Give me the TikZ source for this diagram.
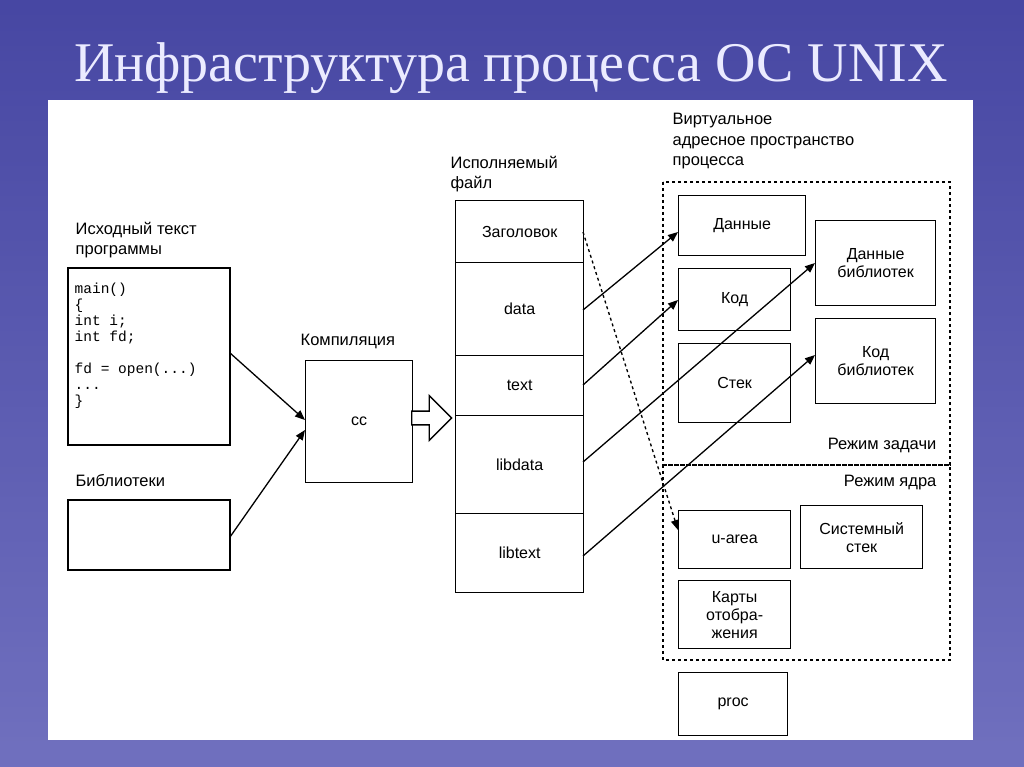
\documentclass[tikz,border=0pt]{standalone}
\usepackage{fontspec}
\setmainfont{Liberation Sans}
\newfontfamily\titlefont{Liberation Serif}
\newfontfamily\codefont{Liberation Mono}
\usetikzlibrary{arrows.meta,shapes.arrows}
\begin{document}
\begin{tikzpicture}[x=1pt,y=-1pt,line width=1.3pt,
  bx/.style={draw,line width=1.3pt,fill=white,inner sep=0pt,font=\fontsize{16}{18}\selectfont,align=center},
  lbl/.style={font=\fontsize{16.5}{20}\selectfont,align=left,inner sep=0pt},
  arr/.style={line width=1.3pt,-{Triangle[length=10pt,width=8pt]}}]
\useasboundingbox (0,0) rectangle (1024,767);
\shade[top color=blue!50!black!90!white, bottom color=blue!55!black!70!white] (0,0) rectangle (1024,767);
\fill[white,opacity=0.2] (0,0) rectangle (1024,767);
\node[font=\titlefont\fontsize{56}{60}\selectfont,text=white!92!blue,anchor=center] (title) at (511,68) {Инфраструктура процесса ОС UNIX};
\fill[white] (48,100) rectangle (973,740);
% left
\node[lbl,anchor=north west] (srcl) at (75,222) {Исходный текст\\программы};
\draw (68,268) rectangle (230,445);
\node[font=\codefont\fontsize{14.5}{16}\selectfont,align=left,anchor=north west,inner sep=0pt] (code) at (74,282) {main()\\\{\\int i;\\int fd;\\[16pt]fd = open(...)\\...\\\}};
\coordinate (srcR) at (230,353);
\node[lbl,anchor=north west] (libl) at (75,474) {Библиотеки};
\draw (68,500) rectangle (230,570);
\coordinate (libR) at (230,537);
\node[lbl,anchor=north west] (compl) at (300,333) {Компиляция};
\node[bx,minimum width=107pt,minimum height=122pt,anchor=north west] (cc) at (305,360) {cc};
\draw[arr] (srcR) -- (305,420);
\draw[arr] (libR) -- (305,430);
\node[single arrow,draw,fill=white,minimum height=40pt,minimum width=45pt,single arrow head extend=6pt,inner sep=2pt,anchor=west] (barr) at (411,418) {};
% exec file
\node[lbl,anchor=north west] (exl) at (450,156) {Исполняемый\\файл};
\node[bx,minimum width=128pt,minimum height=62pt,anchor=north west] (hdr) at (455,200) {Заголовок};
\node[bx,minimum width=128pt,minimum height=93pt,anchor=north west] (data) at (455,262) {data};
\node[bx,minimum width=128pt,minimum height=60pt,anchor=north west] (text) at (455,355) {text};
\node[bx,minimum width=128pt,minimum height=98pt,anchor=north west] (libdata) at (455,415) {libdata};
\node[bx,minimum width=128pt,minimum height=79pt,anchor=north west] (libtext) at (455,513) {libtext};
% right
\node[lbl,anchor=north west] (vl) at (672,113) {Виртуальное\\адресное пространство\\процесса};
\draw[dashed] (663,182) rectangle (950,465);
\draw[dashed] (663,465) rectangle (950,660);
\node[lbl,anchor=north east] (ul) at (937,437) {Режим задачи};
\node[lbl,anchor=north east] (kl) at (937,474) {Режим ядра};
\node[bx,minimum width=127pt,minimum height=60pt,anchor=north west] (dan) at (678,195) {Данные};
\node[bx,minimum width=112pt,minimum height=62pt,anchor=north west] (kod) at (678,268) {Код};
\node[bx,minimum width=112pt,minimum height=79pt,anchor=north west] (stek) at (678,343) {Стек};
\node[bx,minimum width=120pt,minimum height=85pt,anchor=north west] (danb) at (815,220) {Данные\\библиотек};
\node[bx,minimum width=120pt,minimum height=85pt,anchor=north west] (kodb) at (815,318) {Код\\библиотек};
\node[bx,minimum width=112pt,minimum height=58pt,anchor=north west] (ua) at (678,510) {u-area};
\node[bx,minimum width=122pt,minimum height=63pt,anchor=north west] (ss) at (800,505) {Системный\\стек};
\node[bx,minimum width=112pt,minimum height=68pt,anchor=north west] (map) at (678,580) {Карты\\отобра-\\жения};
\node[bx,minimum width=109pt,minimum height=63pt,anchor=north west] (proc) at (678,672) {proc};
\draw[arr] (583,310) -- (678,232);
\draw[arr] (583,385) -- (678,300);
\draw[arr] (583,462) -- (815,263);
\draw[arr] (583,556) -- (815,355);
\draw[dashed,-{Triangle[length=10pt,width=8pt]}] (583,232) -- (678,530);
\end{tikzpicture}
\end{document}
